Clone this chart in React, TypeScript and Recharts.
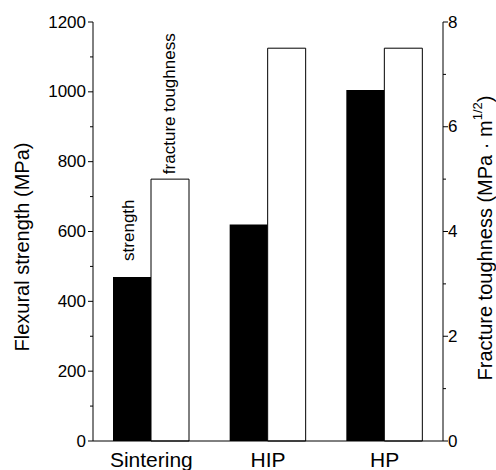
import { Bar, BarChart, LabelList, XAxis, YAxis } from "recharts"

const processes = ["Sintering", "HIP", "HP"]
const strength = [470, 620, 1005]
const toughness = [5.0, 7.5, 7.5]
const strengthTicks = [0, 100, 200, 300, 400, 500, 600, 700, 800, 900, 1000, 1100, 1200]
const toughnessTicks = [0, 1, 2, 3, 4, 5, 6, 7, 8]

const data = processes.map((name, i) => ({
  name,
  strength: strength[i],
  toughness: toughness[i],
}))

const W = 496
const H = 470
const TOP = 22
const LEFT_W = 93
const RIGHT_W = 53
const BOTTOM_H = 29
const LEFT_X = LEFT_W
const RIGHT_X = W - RIGHT_W
const FONT = "'Liberation Sans', Arial, sans-serif"

const LeftTick = (props: any) => {
  const { y, payload } = props
  const v = payload.value
  const major = v % 200 === 0
  return (
    <g>
      <line x1={LEFT_X} x2={LEFT_X - (major ? 5 : 3)} y1={y} y2={y} stroke="#000" />
      {major && (
        <text x={86} y={y} textAnchor="end" dominantBaseline="central" fontSize={17} fill="#000" fontFamily={FONT}>
          {v}
        </text>
      )}
    </g>
  )
}

const RightTick = (props: any) => {
  const { y, payload } = props
  const v = payload.value
  const major = v % 2 === 0
  return (
    <g>
      <line x1={RIGHT_X} x2={RIGHT_X + (major ? 5 : 3)} y1={y} y2={y} stroke="#000" />
      {major && (
        <text x={448} y={y} textAnchor="start" dominantBaseline="central" fontSize={17} fill="#000" fontFamily={FONT}>
          {v}
        </text>
      )}
    </g>
  )
}

const CategoryTick = (props: any) => {
  const { x, payload } = props
  return (
    <text x={x} y={467} textAnchor="middle" fontSize={21} fill="#000" fontFamily={FONT}>
      {payload.value}
    </text>
  )
}

// rotated note above the first bar of a series
const barNote = (text: string, gap: number, shift: number) => (props: any) => {
  const { x, y, width, index } = props
  if (index !== 0) return null
  const cx = x + width / 2 + shift
  const ty = y - gap
  return (
    <text
      x={cx}
      y={ty}
      transform={`rotate(-90 ${cx} ${ty})`}
      textAnchor="start"
      dominantBaseline="central"
      fontSize={17}
      fill="#000"
      fontFamily={FONT}
    >
      {text}
    </text>
  )
}

const leftTitle = () => (
  <text
    x={22}
    y={247}
    transform="rotate(-90 22 247)"
    textAnchor="middle"
    dominantBaseline="central"
    fontSize={20}
    fill="#000"
    fontFamily={FONT}
  >
    Flexural strength (MPa)
  </text>
)

const rightTitle = () => (
  <text
    x={492}
    y={238}
    transform="rotate(-90 492 238)"
    textAnchor="middle"
    fontSize={20}
    fill="#000"
    fontFamily={FONT}
  >
    Fracture toughness (MPa · m
    <tspan dy={-10} fontSize={13}>1/2</tspan>
    <tspan dy={10}>)</tspan>
  </text>
)

export default function App() {
  return (
    <div style={{ position: "absolute", left: 0, top: 0, background: "#fff" }}>
      <BarChart
        width={W}
        height={H}
        data={data}
        margin={{ top: TOP, right: 0, bottom: 0, left: 0 }}
        barGap={0}
      >
        <XAxis
          dataKey="name"
          xAxisId="bottom"
          height={BOTTOM_H}
          axisLine={{ stroke: "#000" }}
          tickLine={false}
          tick={<CategoryTick />}
        />
        <XAxis
          dataKey="name"
          xAxisId="top"
          orientation="top"
          height={0}
          axisLine={{ stroke: "#000" }}
          tickLine={false}
          tick={false}
        />
        <YAxis
          yAxisId="left"
          orientation="left"
          width={LEFT_W}
          domain={[0, 1200]}
          ticks={strengthTicks}
          interval={0}
          axisLine={{ stroke: "#000" }}
          tickLine={false}
          tick={<LeftTick />}
          label={{ content: leftTitle }}
        />
        <YAxis
          yAxisId="right"
          orientation="right"
          width={RIGHT_W}
          domain={[0, 8]}
          ticks={toughnessTicks}
          interval={0}
          axisLine={{ stroke: "#000" }}
          tickLine={false}
          tick={<RightTick />}
          label={{ content: rightTitle }}
        />
        <Bar
          dataKey="strength"
          xAxisId="bottom"
          yAxisId="left"
          fill="#000"
          barSize={38}
          isAnimationActive={false}
        >
          <LabelList dataKey="strength" content={barNote("strength", 16, -3)} />
        </Bar>
        <Bar
          dataKey="toughness"
          xAxisId="bottom"
          yAxisId="right"
          fill="#fff"
          stroke="#000"
          strokeWidth={1}
          barSize={38}
          isAnimationActive={false}
        >
          <LabelList dataKey="toughness" content={barNote("fracture toughness", 5, -1)} />
        </Bar>
      </BarChart>
    </div>
  )
}
